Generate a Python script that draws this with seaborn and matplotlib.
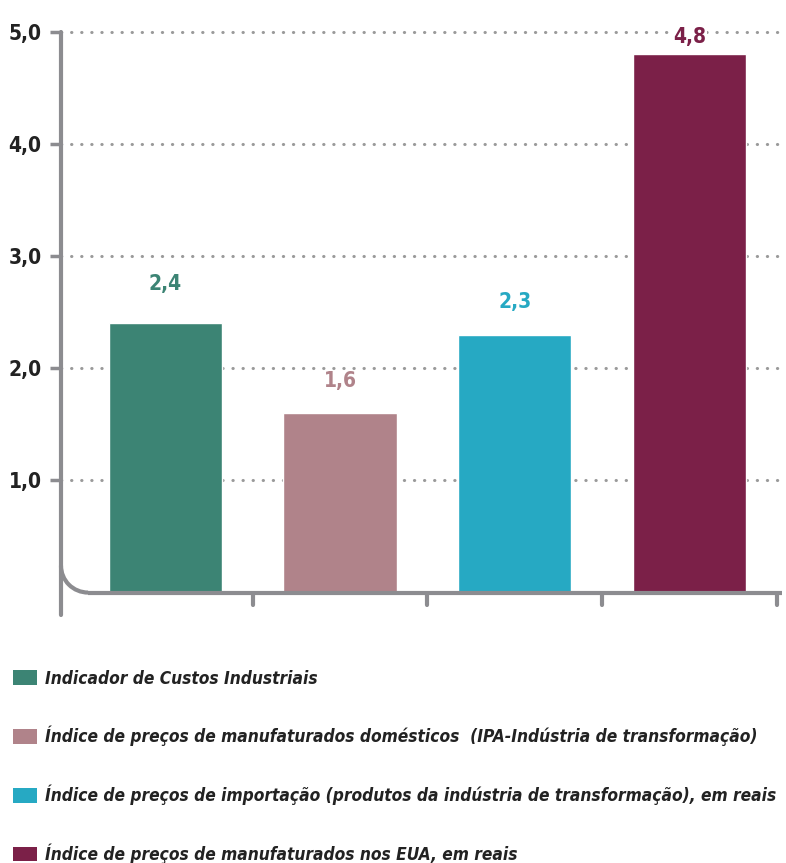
import seaborn as sns
import pandas as pd
import matplotlib.pyplot as plt
from matplotlib.patches import Patch, Arc

# data
categorias = [
    'Indicador de Custos Industriais',
    'Índice de preços de manufaturados domésticos  (IPA-Indústria de transformação)',
    'Índice de preços de importação (produtos da indústria de transformação), em reais',
    'Índice de preços de manufaturados nos EUA, em reais',
]
valores = [2.4, 1.6, 2.3, 4.8]
rotulos = ['2,4', '1,6', '2,3', '4,8']
cores = ['#3C8474', '#B0838A', '#26A9C3', '#7B2048']
yticks = [1.0, 2.0, 3.0, 4.0, 5.0]
ytick_labels = ['1,0', '2,0', '3,0', '4,0', '5,0']

df = pd.DataFrame({'cat': categorias, 'valor': valores})

sns.set_style('white')
plt.rcParams['font.family'] = ['DejaVu Sans']
plt.rcParams['font.stretch'] = 'condensed'

eixo = '#8C8C90'
fig = plt.figure(figsize=(7.86, 8.63), dpi=100)
ax = fig.add_axes([0.0776, 0.2874, 0.917, 0.682])

sns.barplot(data=df, x='cat', y='valor', hue='cat', palette=cores,
            width=0.65, saturation=1, legend=False, ax=ax, zorder=3)

ax.set_xlim(-0.598, 3.529)
ax.set_ylim(-0.2, 5.05)

# dotted grid
ax.set_yticks(yticks)
ax.set_yticklabels(ytick_labels, fontsize=15, fontweight='bold', color='#222222',
                   fontstretch='condensed')
ax.yaxis.grid(True, color='#9A9A9A', linestyle=(0, (0.1, 3.2)), linewidth=2.2,
              dash_capstyle='round')
ax.tick_params(axis='y', length=8, width=2.5, color=eixo, pad=6, direction='out', left=True)

# x ticks between bars
ax.set_xticks([0.5, 1.5, 2.5, 3.5])
ax.set_xticklabels([])
ax.set_xlabel('')
ax.set_ylabel('')

for s in ['top', 'right', 'bottom']:
    ax.spines[s].set_visible(False)
ax.spines['left'].set_color(eixo)
ax.spines['left'].set_linewidth(3)
ax.spines['left'].set_bounds(-0.2, 5.0)
ax.spines['left'].set_capstyle('round')

# horizontal axis with rounded corner
x0 = -0.598
rx, ry = 0.155, 0.24
ax.plot([x0 + rx, 3.529], [0, 0], color=eixo, lw=3, solid_capstyle='butt', zorder=4,
        clip_on=False)
ax.add_patch(Arc((x0 + rx, ry), 2 * rx, 2 * ry, theta1=180, theta2=270,
                 color=eixo, lw=3, zorder=4, clip_on=False))
for xt in [0.5, 1.5, 2.5, 3.5]:
    ax.plot([xt, xt], [0, -0.11], color=eixo, lw=3, zorder=4, clip_on=False)
ax.tick_params(axis='x', length=0)

# value labels
deslocs = [0.26, 0.20, 0.20, 0.07]
for i, (v, r, c) in enumerate(zip(valores, rotulos, cores)):
    ax.text(i, v + deslocs[i], r, ha='center', va='bottom', fontsize=15,
            fontweight='bold', color=c, zorder=5, fontstretch='condensed',
            bbox=dict(facecolor='white', edgecolor='none', pad=1) if i == 3 else None)

# legend
handles = [Patch(facecolor=c, edgecolor='none') for c in cores]
fig.legend(handles, categorias, loc='upper left', bbox_to_anchor=(0.0165, 0.224),
           frameon=False, handlelength=1.42, handleheight=0.95, handletextpad=0.45,
           labelspacing=2.22, borderpad=0, borderaxespad=0,
           prop={'size': 12.4, 'weight': 'bold', 'style': 'italic', 'stretch': 'condensed'},
           labelcolor='#222222')

plt.savefig('out.png', dpi=100)
